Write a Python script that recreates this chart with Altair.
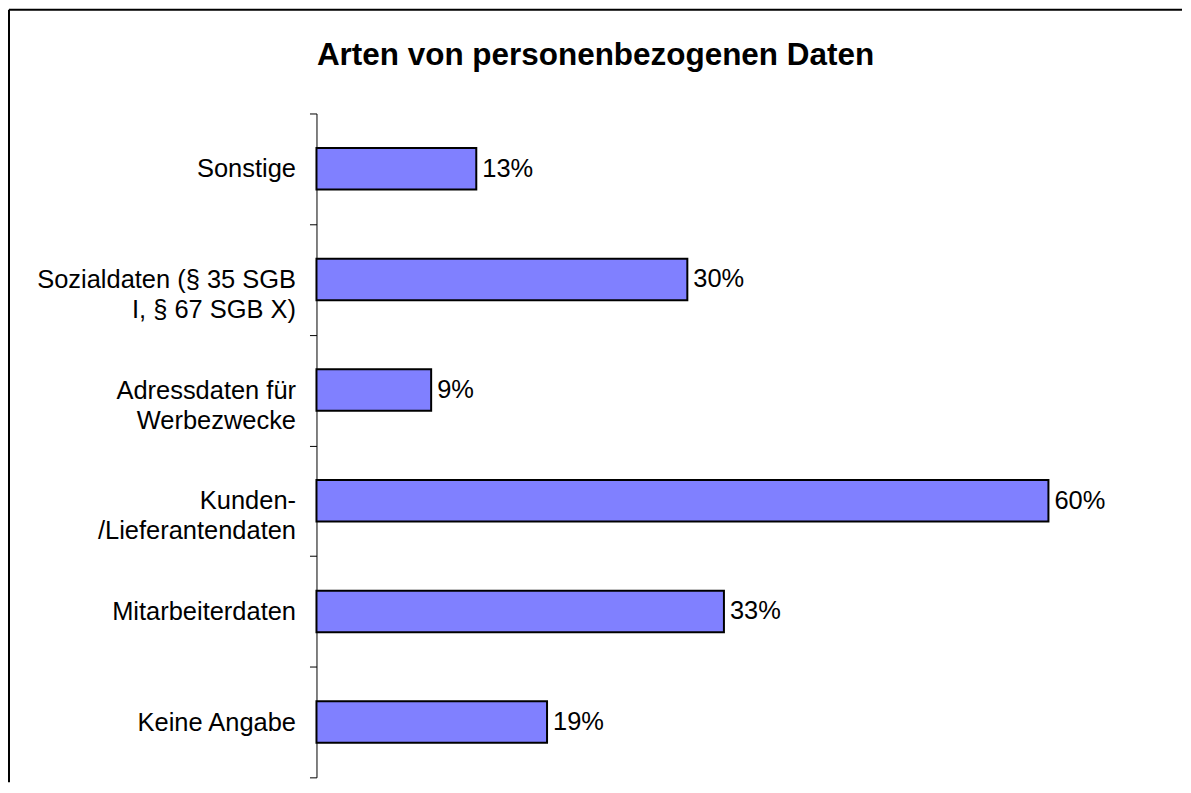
import altair as alt
import pandas as pd

# Data
categories = [
    "Sonstige",
    "Sozialdaten (§ 35 SGB\nI, § 67 SGB X)",
    "Adressdaten für\nWerbezwecke",
    "Kunden-\n/Lieferantendaten",
    "Mitarbeiterdaten",
    "Keine Angabe",
]
values = [13.1, 30.4, 9.4, 60.0, 33.4, 18.9]
title_text = "Arten von personenbezogenen Daten"

df = pd.DataFrame({"category": categories, "value": values})

FONT = "Liberation Sans"
LABEL_SIZE = 25.5
PLOT_W, PLOT_H = 860, 665

y_scale = alt.Scale(domain=categories, paddingInner=0, paddingOuter=0)
x_scale = alt.Scale(domain=[0, PLOT_W / 12.22], nice=False, zero=True)

y_axis = alt.Axis(
    title=None,
    orient="left",
    domain=True,
    domainColor="black",
    domainWidth=1,
    ticks=True,
    tickBand="extent",
    tickSize=7,
    tickColor="black",
    tickWidth=1,
    labelFont=FONT,
    labelFontSize=LABEL_SIZE,
    labelColor="black",
    labelLineHeight=30,
    labelExpr="split(datum.label, '\\n')",
    labelAlign="right",
    labelPadding=14,
    labelBaseline="middle",
    labelLimit=400,
    labelOverlap=False,
    grid=False,
)

Y = alt.Y("category:N", scale=y_scale, axis=y_axis, sort=None)
X = alt.X("value:Q", scale=x_scale, axis=None)

base = alt.Chart(df)
one = alt.Chart(pd.DataFrame({"frame": [0]}))

# chart frame (top and left edges; the reference is cropped on the other sides)
frame_top = one.mark_rule(color="black", strokeWidth=2).encode(
    x=alt.value(-308), x2=alt.value(867), y=alt.value(-104)
)
frame_left = one.mark_rule(color="black", strokeWidth=2).encode(
    x=alt.value(-308), y=alt.value(-104), y2=alt.value(670)
)

bars = base.mark_bar(
    fill="#8080FF",
    stroke="black",
    strokeWidth=2,
    height=alt.RelativeBandSize(0.375),
).encode(y=Y, x=X)

labels = base.transform_calculate(
    label="format(datum.value, '.0f') + '%'"
).mark_text(
    align="left",
    baseline="middle",
    dx=6,
    font=FONT,
    fontSize=LABEL_SIZE,
    color="black",
).encode(y=Y, x=X, text="label:N")

chart = (
    alt.layer(frame_top, frame_left, bars, labels)
    .properties(
        width=PLOT_W,
        height=PLOT_H,
        padding=0,
        background="white",
        title=alt.Title(
            title_text,
            font=FONT,
            fontSize=31.5,
            fontWeight="bold",
            color="black",
            anchor="middle",
            frame="bounds",
            baseline="alphabetic",
            offset=-88,
        ),
    )
    .configure_view(strokeWidth=0)
)

chart.save("out.html", embed_options={"renderer": "svg", "actions": False})
